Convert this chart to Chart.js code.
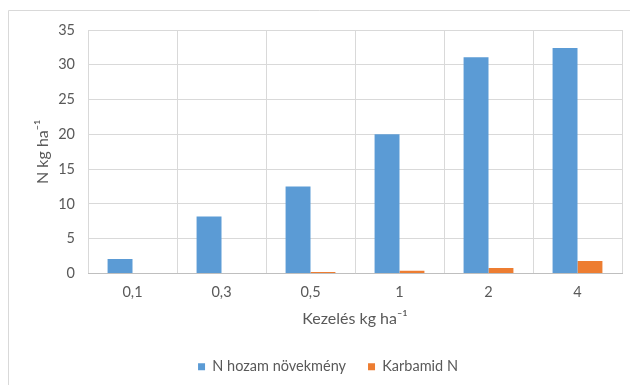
<!DOCTYPE html>
<html>
<head>
<meta charset="utf-8">
<script src="https://cdn.jsdelivr.net/npm/chart.js@4/dist/chart.umd.min.js"></script>
<style>
  html, body { margin: 0; padding: 0; background: #fff; }
  #wrap { width: 630px; height: 385px; position: relative; }
</style>
</head>
<body>
<div id="wrap"><canvas id="c" width="630" height="385"></canvas></div>
<script>
// Kezelés (treatment rate, kg/ha)
const categories = ['0,1', '0,3', '0,5', '1', '2', '4'];
// N hozam növekmény (N yield increase, kg/ha)
const nYieldGain = [2.1, 8.2, 12.5, 20.0, 31.1, 32.4];
// Karbamid N (urea N, kg/ha)
const ureaN = [0, 0, 0.2, 0.4, 0.8, 1.8];
// value axis ticks
const yTicks = [0, 5, 10, 15, 20, 25, 30, 35];

const textColor = '#595959';
const gridColor = '#d9d9d9';
const fontFamily = 'Lato, "Open Sans", sans-serif';

// light frame around the chart object
const framePlugin = {
  id: 'frame',
  beforeDraw(chart) {
    const ctx = chart.ctx;
    ctx.save();
    ctx.strokeStyle = '#d9d9d9';
    ctx.lineWidth = 1;
    ctx.beginPath();
    ctx.moveTo(8.5, 385);
    ctx.lineTo(8.5, 10.5);
    ctx.lineTo(630, 10.5);
    ctx.stroke();
    ctx.restore();
  }
};

// centre the legend under the plot area rather than the whole canvas
const legendShift = {
  id: 'legendShift',
  afterLayout(chart) {
    const lg = chart.legend;
    if (!lg) return;
    const dx = 17, dy = 2;
    lg.left += dx; lg.right += dx;
    lg.top += dy; lg.bottom += dy;
  }
};

new Chart(document.getElementById('c'), {
  type: 'bar',
  data: {
    labels: categories,
    datasets: [
      { label: 'N hozam növekmény', data: nYieldGain, backgroundColor: '#5b9bd5', borderWidth: 0 },
      { label: 'Karbamid N', data: ureaN, backgroundColor: '#ed7d31', borderWidth: 0 }
    ]
  },
  options: {
    responsive: false,
    animation: false,
    devicePixelRatio: 1,
    layout: { padding: { top: 30, right: 8, left: 0, bottom: 3 } },
    datasets: { bar: { categoryPercentage: 0.56, barPercentage: 1 } },
    plugins: {
      tooltip: { enabled: false },
      legend: {
        position: 'bottom',
        labels: {
          boxWidth: 7, boxHeight: 7, padding: 22,
          color: textColor,
          font: { family: fontFamily, size: 14.5 }
        }
      }
    },
    scales: {
      x: {
        offset: true,
        grid: { color: gridColor, offset: true, drawTicks: false },
        border: { color: '#bfbfbf' },
        ticks: { color: textColor, padding: 10, font: { family: fontFamily, size: 14.5 } },
        title: {
          display: true, text: 'Kezelés kg ha⁻¹', color: textColor,
          font: { family: fontFamily, size: 16 }, padding: { top: 0, bottom: 7 }
        },
        afterFit(scale) { scale.height = 62; }
      },
      y: {
        min: 0, max: 35,
        afterBuildTicks(scale) { scale.ticks = yTicks.map(v => ({ value: v })); },
        grid: { color: gridColor, drawTicks: false },
        border: { display: false },
        ticks: { color: textColor, padding: 13, font: { family: fontFamily, size: 14.5 } },
        title: {
          display: true, text: 'N kg ha⁻¹', color: textColor,
          font: { family: fontFamily, size: 16 }, padding: { top: 33, bottom: 0 }
        },
        afterFit(scale) { scale.width = 88; }
      }
    }
  },
  plugins: [framePlugin, legendShift]
});
</script>
</body>
</html>
